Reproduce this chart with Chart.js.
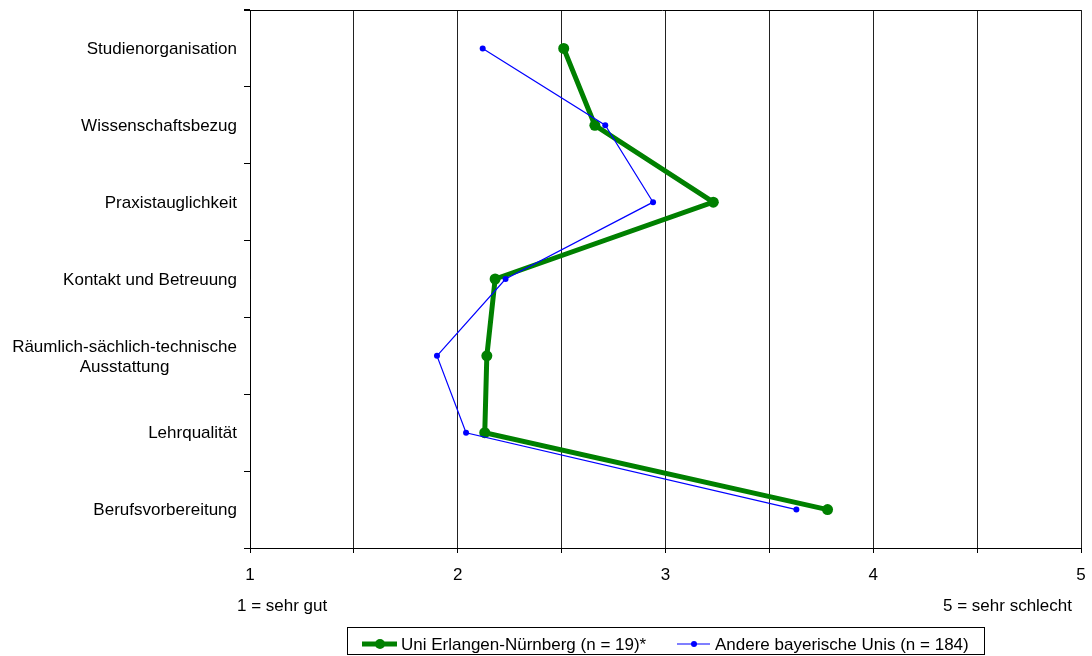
<!DOCTYPE html>
<html>
<head>
<meta charset="utf-8">
<script src="https://cdn.jsdelivr.net/npm/chart.js@4/dist/chart.umd.min.js"></script>
<style>
  html, body { margin: 0; padding: 0; background: #fff; }
  #wrap { width: 1092px; height: 656px; position: relative; }
</style>
</head>
<body>
<div id="wrap"><canvas id="chart"></canvas></div>
<script>
// DATA
const categories = [
    'Studienorganisation',
    'Wissenschaftsbezug',
    'Praxistauglichkeit',
    'Kontakt und Betreuung',
    ['Räumlich-sächlich-technische', 'Ausstattung'],
    'Lehrqualität',
    'Berufsvorbereitung'
];
const erlangen = [2.51, 2.66, 3.23, 2.18, 2.14, 2.13, 3.78];
const andere = [2.12, 2.71, 2.94, 2.23, 1.90, 2.04, 3.63];
const xTickLabels = ['1', '2', '3', '4', '5'];
const legendLabels = ['Uni Erlangen-Nürnberg (n = 19)*', 'Andere bayerische Unis (n = 184)'];
const scaleNotes = ['1 = sehr gut', '5 = sehr schlecht'];

const FONT = '17px "Liberation Sans", Arial, sans-serif';
const GREEN = '#008000';
const BLUE = '#0000ff';

// draws y labels, top border, scale notes and boxed legend
const extras = {
    id: 'extras',
    afterDraw(chart) {
        const ctx = chart.ctx;
        const area = chart.chartArea;
        const y = chart.scales.y;
        ctx.save();

        // top border
        ctx.strokeStyle = '#000';
        ctx.lineWidth = 1;
        ctx.beginPath();
        ctx.moveTo(area.left - 6, Math.round(area.top) + 0.5);
        ctx.lineTo(area.right, Math.round(area.top) + 0.5);
        ctx.stroke();

        // category labels (block right aligned, lines centered)
        ctx.font = FONT;
        ctx.fillStyle = '#000';
        ctx.textAlign = 'center';
        ctx.textBaseline = 'middle';
        categories.forEach((c, i) => {
            const lines = Array.isArray(c) ? c : [c];
            const widest = Math.max(...lines.map(l => ctx.measureText(l).width));
            const cx = area.left - 13 - widest / 2;
            const cy = y.getPixelForValue(i) + 1;
            lines.forEach((l, j) => {
                ctx.fillText(l, cx, cy + (j - (lines.length - 1) / 2) * 20);
            });
        });

        // scale notes
        ctx.textAlign = 'left';
        ctx.fillText(scaleNotes[0], area.left - 13, 606);
        ctx.textAlign = 'right';
        ctx.fillText(scaleNotes[1], area.right - 9, 606);

        // legend box
        ctx.strokeStyle = '#000';
        ctx.strokeRect(347.5, 627.5, 637, 27);
        const ly = 644;
        // green item
        ctx.strokeStyle = GREEN;
        ctx.lineWidth = 5;
        ctx.beginPath(); ctx.moveTo(362, ly); ctx.lineTo(397, ly); ctx.stroke();
        ctx.fillStyle = GREEN;
        ctx.beginPath(); ctx.arc(380, ly, 5, 0, Math.PI * 2); ctx.fill();
        // blue item
        ctx.strokeStyle = BLUE;
        ctx.lineWidth = 1.2;
        ctx.beginPath(); ctx.moveTo(677, ly); ctx.lineTo(710, ly); ctx.stroke();
        ctx.fillStyle = BLUE;
        ctx.beginPath(); ctx.arc(694, ly, 3, 0, Math.PI * 2); ctx.fill();

        ctx.fillStyle = '#000';
        ctx.textAlign = 'left';
        ctx.fillText(legendLabels[0], 401, ly + 1);
        ctx.fillText(legendLabels[1], 715, ly + 1);
        ctx.restore();
    }
};

new Chart(document.getElementById('chart'), {
    type: 'line',
    data: {
        labels: categories,
        datasets: [{
            label: legendLabels[0],
            data: erlangen,
            borderColor: GREEN,
            backgroundColor: GREEN,
            borderWidth: 5,
            pointRadius: 5.5,
            pointBorderWidth: 0,
            order: 2
        }, {
            label: legendLabels[1],
            data: andere,
            borderColor: BLUE,
            backgroundColor: BLUE,
            borderWidth: 1.2,
            pointRadius: 3,
            pointBorderWidth: 0,
            order: 1
        }]
    },
    options: {
        indexAxis: 'y',
        responsive: true,
        maintainAspectRatio: false,
        animation: false,
        layout: { padding: { top: 10, right: 11, left: 0, bottom: 0 } },
        elements: { line: { tension: 0 } },
        plugins: { legend: { display: false }, tooltip: { enabled: false } },
        scales: {
            x: {
                type: 'linear',
                min: 1, max: 5,
                afterFit: s => { s.height = 108; s.paddingRight = 0; s.paddingLeft = 0; },
                ticks: {
                    stepSize: 0.5,
                    autoSkip: false,
                    maxRotation: 0,
                    padding: 12,
                    color: '#000',
                    font: { family: '"Liberation Sans", Arial, sans-serif', size: 17 },
                    callback: v => Number.isInteger(v) ? xTickLabels[v - 1] : ''
                },
                grid: { color: '#222', tickLength: 5, tickColor: '#000' },
                border: { color: '#000' }
            },
            y: {
                type: 'category',
                offset: true,
                afterFit: s => { s.width = 250; },
                ticks: { display: false },
                grid: { offset: true, drawOnChartArea: false, tickLength: 6, color: '#000' },
                border: { color: '#000' }
            }
        }
    },
    plugins: [extras]
});
</script>
</body>
</html>
